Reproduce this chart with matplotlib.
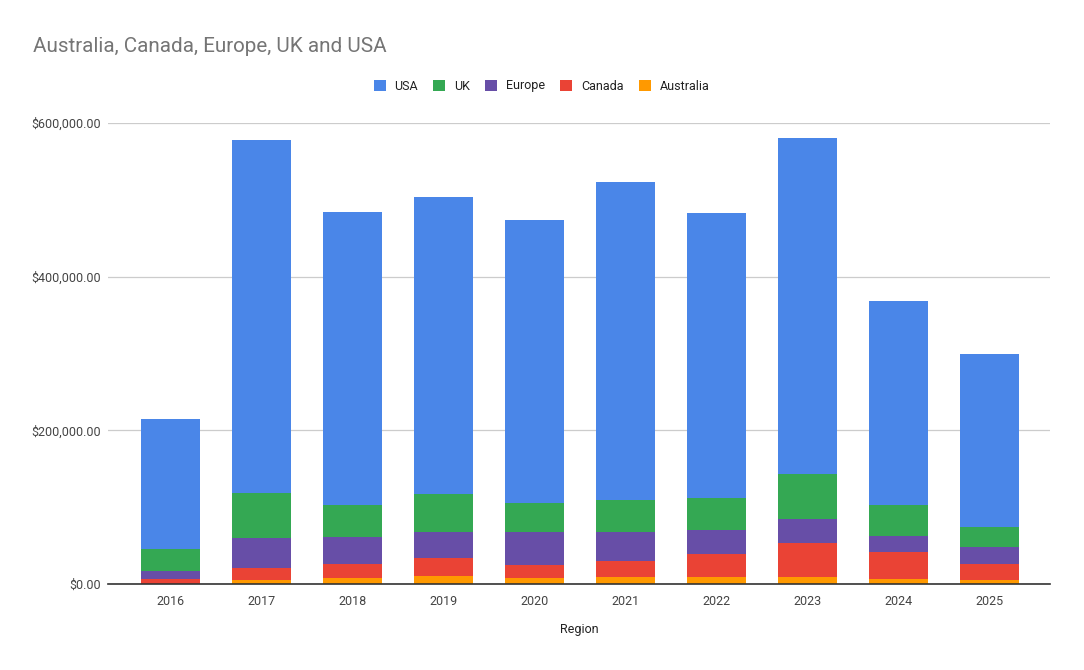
import matplotlib
matplotlib.use("Agg")
import matplotlib.pyplot as plt
from matplotlib.patches import Patch
from matplotlib.ticker import FuncFormatter
import numpy as np

plt.rcParams['font.family'] = ['Roboto', 'DejaVu Sans']

years = ['2016', '2017', '2018', '2019', '2020', '2021', '2022', '2023', '2024', '2025']
australia = [500, 5600, 8200, 10800, 8200, 9100, 9100, 9100, 6500, 5600]
canada = [5600, 15600, 18200, 23400, 16500, 20800, 30400, 44300, 35600, 20800]
europe = [11300, 39000, 34700, 33800, 43400, 38200, 31200, 31200, 20800, 21700]
uk = [28600, 58100, 41600, 49500, 37300, 41600, 41600, 59000, 39900, 26000]
usa = [169000, 459400, 381300, 386100, 368300, 413500, 370500, 436900, 265500, 225200]

series = [('Australia', australia, '#ff9900'),
          ('Canada', canada, '#ea4335'),
          ('Europe', europe, '#674ea7'),
          ('UK', uk, '#34a853'),
          ('USA', usa, '#4a86e8')]

fig = plt.figure(figsize=(10.84, 6.70), dpi=100)
ax = fig.add_axes([108/1084, 1-584/670, (1050-108)/1084, (584-123)/670])

x = np.arange(len(years))
bottom = np.zeros(len(years))
for name, vals, col in series:
    ax.bar(x, vals, width=0.65, bottom=bottom, color=col, zorder=3, linewidth=0)
    bottom += np.array(vals)

ax.set_xlim(-0.687, 9.665)
ax.set_ylim(0, 600000)
ax.set_yticks([0, 200000, 400000, 600000])
ax.yaxis.set_major_formatter(FuncFormatter(lambda v, p: f"${v:,.2f}"))
ax.set_xticks(x)
ax.set_xticklabels(years)
ax.grid(axis='y', color='#cccccc', linewidth=0.9, zorder=0)
for s in ['top', 'right', 'left']:
    ax.spines[s].set_visible(False)
ax.spines['bottom'].set_color('#333333')
ax.spines['bottom'].set_linewidth(1.2)
ax.spines['bottom'].set_zorder(4)
ax.tick_params(axis='both', length=0, labelsize=9, colors='#444444')
ax.tick_params(axis='x', pad=8)
ax.tick_params(axis='y', pad=5)
ax.set_xlabel('Region', fontsize=9, color='#222222', labelpad=11)

fig.text(33/1084, 1-46/670, 'Australia, Canada, Europe, UK and USA', fontsize=14.9,
         color='#757575', va='center', ha='left')

handles = [Patch(facecolor=c, label=n) for n, _, c in reversed(series)]
fig.legend(handles=handles, loc='center', bbox_to_anchor=(541.5/1084, 1-86/670), ncol=5,
           frameon=False, fontsize=9, handlelength=0.96, handleheight=0.96,
           columnspacing=1.2, handletextpad=0.72, labelcolor='#222222')

fig.savefig('out.png', dpi=100)
